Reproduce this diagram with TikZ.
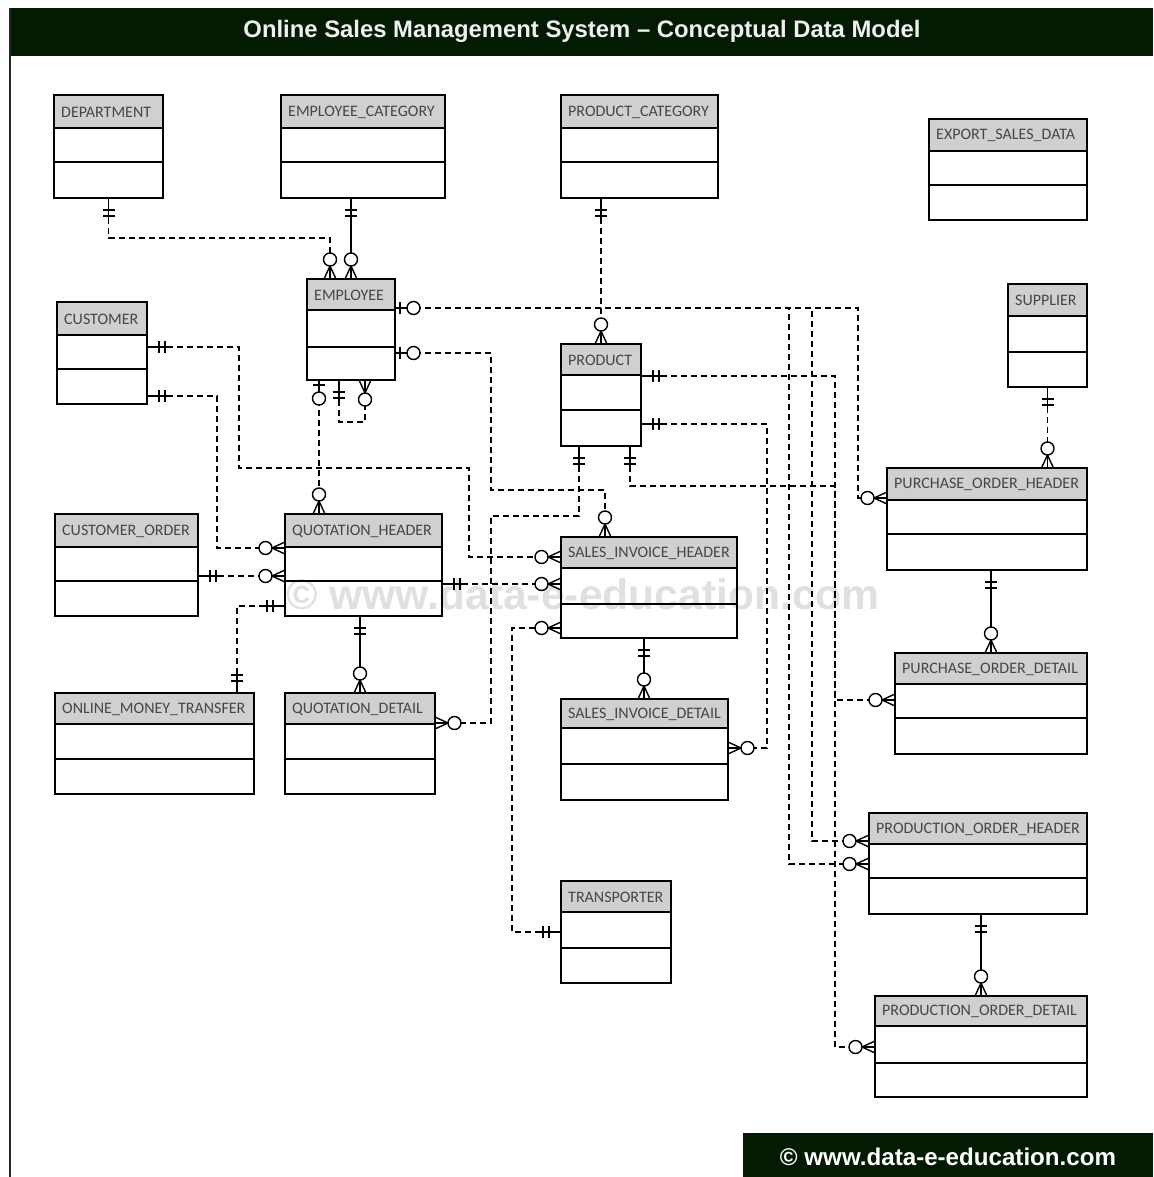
\documentclass[tikz,border=0pt]{standalone}
\usepackage{fontspec}
\setmainfont{Carlito}
\setsansfont{Liberation Sans}
\usetikzlibrary{calc}
\definecolor{titlebg}{RGB}{3,26,3}
\definecolor{hdrgray}{RGB}{208,208,208}
\definecolor{wmgray}{RGB}{224,224,224}
\definecolor{labgray}{RGB}{70,70,70}

\tikzset{
  ebox/.style={draw, line width=1.8pt, inner sep=0pt, outer sep=0pt},
  eline/.style={line width=1.8pt},
  hdrfill/.style={fill=hdrgray},
  etext/.style={anchor=west, inner sep=0pt, text=labgray, font=\fontsize{16}{19}\selectfont},
  rel/.style={line width=1.4pt, dash pattern=on 6pt off 4pt},
  idrel/.style={line width=1.4pt},
  sym/.style={line width=1.4pt, solid}
}

% #1 name, #2 x, #3 y, #4 w, #5 h, #6 header h, #7 row1 h, #8 label
\newcommand\erEnt[8]{%
  \fill[hdrfill] (#2,#3) rectangle ++(#4,#6);
  \draw[eline] (#2,#3+#6) -- ++(#4,0);
  \draw[eline] (#2,#3+#6+#7) -- ++(#4,0);
  \node[ebox, minimum width=#4pt, minimum height=#5pt] (#1) at (#2+#4/2,#3+#5/2) {};
  \node[etext] (#1-label) at (#2+7,#3+#6/2+0.5) {#8};
}
\newcommand\erOne[2]{\begin{scope}[shift={#1},rotate=#2]
  \draw[sym] (0pt,0pt) -- (20pt,0pt);
  \draw[sym] (12pt,-6pt) -- (12pt,6pt);
  \draw[sym] (18pt,-6pt) -- (18pt,6pt);
\end{scope}}
\newcommand\erZO[2]{\begin{scope}[shift={#1},rotate=#2]
  \draw[sym] (0pt,0pt) -- (12pt,0pt);
  \draw[sym] (5pt,-6pt) -- (5pt,6pt);
  \draw[sym,fill=white] (18.5pt,0pt) circle[radius=6.5pt];
\end{scope}}
\newcommand\erMany[2]{\begin{scope}[shift={#1},rotate=#2]
  \draw[sym] (0pt,6pt) -- (13pt,0pt) -- (0pt,-6pt);
  \draw[sym] (0pt,0pt) -- (13pt,0pt);
  \draw[sym,fill=white] (19.5pt,0pt) circle[radius=6.5pt];
\end{scope}}

\begin{document}
\begin{tikzpicture}[x=1pt,y=-1pt]
\useasboundingbox (0,0) rectangle (1153,1177);
\fill[white] (0,0) rectangle (1153,1177);

% title bar and frame
\fill[titlebg] (10,8) rectangle (1153,56);
\draw[line width=1.2pt, black!85] (10,8) -- (10,1177);
\node[text=white!94!black, inner sep=0pt] (title) at (582,31) {\resizebox{677pt}{!}{\sffamily\bfseries Online Sales Management System – Conceptual Data Model}};

% footer
\fill[titlebg] (743,1133) rectangle (1153,1177);
\node[text=white, inner sep=0pt] (foot) at (948,1157) {\resizebox{336pt}{!}{\sffamily\bfseries © www.data-e-education.com}};

% watermark
\node[text=wmgray, inner sep=0pt] (wm) at (583,594) {\resizebox{593pt}{!}{\sffamily\bfseries © www.data-e-education.com}};

% entities
\erEnt{dept}{54}{95}{109}{103}{33}{34}{DEPARTMENT}
\erEnt{empcat}{281}{95}{164}{103}{33}{34}{EMPLOYEE\_CATEGORY}
\erEnt{prodcat}{561}{95}{157}{103}{33}{34}{PRODUCT\_CATEGORY}
\erEnt{export}{929}{119}{158}{101}{32}{34}{EXPORT\_SALES\_DATA}
\erEnt{emp}{307}{279}{88}{101}{31}{37}{EMPLOYEE}
\erEnt{cust}{57}{302}{90}{102}{33}{34}{CUSTOMER}
\erEnt{prod}{561}{344}{80}{102}{31}{35}{PRODUCT}
\erEnt{sup}{1008}{284}{79}{103}{32}{36}{SUPPLIER}
\erEnt{poh}{887}{468}{200}{102}{32}{34}{PURCHASE\_ORDER\_HEADER}
\erEnt{co}{55}{514}{143}{102}{33}{34}{CUSTOMER\_ORDER}
\erEnt{qh}{285}{514}{157}{102}{33}{34}{QUOTATION\_HEADER}
\erEnt{sih}{561}{537}{176}{101}{31}{36}{SALES\_INVOICE\_HEADER}
\erEnt{pod}{895}{653}{192}{101}{31}{34}{PURCHASE\_ORDER\_DETAIL}
\erEnt{omt}{55}{693}{199}{101}{31}{35}{ONLINE\_MONEY\_TRANSFER}
\erEnt{qd}{285}{693}{150}{101}{31}{35}{QUOTATION\_DETAIL}
\erEnt{sid}{561}{699}{167}{101}{29}{36}{SALES\_INVOICE\_DETAIL}
\erEnt{pdh}{869}{813}{218}{101}{31}{34}{PRODUCTION\_ORDER\_HEADER}
\erEnt{tr}{561}{881}{110}{102}{31}{36}{TRANSPORTER}
\erEnt{pdd}{875}{996}{212}{101}{30}{37}{PRODUCTION\_ORDER\_DETAIL}

% connector end points
\coordinate (e1) at ([yshift=-29pt]emp.north east);
\coordinate (e2) at ([yshift=-74pt]emp.north east);
\coordinate (et1) at ([xshift=-21pt]emp.north);
\coordinate (et2) at (emp.north);
\coordinate (eb1) at ([xshift=12pt]emp.south west);
\coordinate (eb2) at ([xshift=32pt]emp.south west);
\coordinate (eb3) at ([xshift=58pt]emp.south west);
\coordinate (cu1) at ([yshift=-45pt]cust.north east);
\coordinate (cu2) at ([yshift=-94pt]cust.north east);
\coordinate (q1) at ([yshift=-34pt]qh.north west);
\coordinate (q2) at ([yshift=-62pt]qh.north west);
\coordinate (q3) at ([yshift=-70pt]qh.north east);
\coordinate (q4) at ([yshift=-92pt]qh.north west);
\coordinate (co1) at (co.east |- q2);
\coordinate (si1) at ([yshift=-20pt]sih.north west);
\coordinate (si2) at (sih.west |- q3);
\coordinate (si3) at ([yshift=-91pt]sih.north west);
\coordinate (st) at ([xshift=44pt]sih.north west);
\coordinate (om1) at ([xshift=182pt]omt.north west);
\coordinate (qd1) at ([yshift=-30pt]qd.north east);
\coordinate (sd1) at ([yshift=-49pt]sid.north east);
\coordinate (sidtop) at ([xshift=83pt]sid.north west);
\coordinate (p1) at ([yshift=-30pt]poh.north west);
\coordinate (pod1) at ([yshift=-47pt]pod.north west);
\coordinate (podtop) at ([xshift=96pt]pod.north west);
\coordinate (ph1) at ([yshift=-28pt]pdh.north west);
\coordinate (ph2) at ([yshift=-51pt]pdh.north west);
\coordinate (pdd1) at ([yshift=-51pt]pdd.north west);
\coordinate (pddtop) at ([xshift=106pt]pdd.north west);
\coordinate (tr1) at ([yshift=-51pt]tr.north west);
\coordinate (pr1) at ([yshift=-32pt]prod.north east);
\coordinate (pr2) at ([yshift=-80pt]prod.north east);
\coordinate (pb1) at ([xshift=18pt]prod.south west);
\coordinate (pb2) at ([xshift=69pt]prod.south west);

% connectors
\draw[rel] (dept.south) -- ++(0,40) -| (et1);
\draw[idrel] (et2) -- (et2 |- empcat.south);
\draw[rel] (prod.north) -- (prod.north |- prodcat.south);
\draw[rel] (e1) -| ($(p1)+(-29,0)$) -- (p1);
\draw[rel] (e1) -| ($(ph1)+(-57,0)$) -- (ph1);
\draw[rel] (e1) -| ($(ph2)+(-80,0)$) -- (ph2);
\draw[rel] (e2) -- ++(96,0) |- ($(st)+(0,-47)$) -- (st);
\draw[rel] (eb1) -- (eb1 |- qh.north);
\draw[rel] (eb2) -- ++(0,42) -| (eb3);
\draw[rel] (cu1) -| ($(cu1)+(92,121)$) -| ($(si1)+(-92,0)$) -- (si1);
\draw[rel] (cu2) -| ($(q1)+(-68,0)$) -- (q1);
\draw[rel] (co1) -- (q2);
\draw[rel] (q3) -- (si2);
\draw[rel] (q4) -| (om1);
\draw[idrel] (qd.north) -- (qd.north |- qh.south);
\draw[rel] (pb1) -- ++(0,70) -| ($(qd1)+(56,0)$) -- (qd1);
\draw[rel] (pr1) -| ($(pod1)+(-60,0)$) -- (pod1);
\draw[rel] (pr2) -| ($(sd1)+(39,0)$) -- (sd1);
\draw[rel] (pb2) -- ++(0,40) -| ($(pdd1)+(-40,0)$) -- (pdd1);
\draw[rel] (sup.south) -- (sup.south |- poh.north);
\draw[idrel] (podtop) -- (podtop |- poh.south);
\draw[idrel] (pddtop) -- (pddtop |- pdh.south);
\draw[idrel] (sidtop) -- (sidtop |- sih.south);
\draw[rel] (tr1) -- ++(-49,0) |- (si3);

% end symbols
\erOne{(dept.south)}{270} \erMany{(et1)}{90}
\erOne{(et2 |- empcat.south)}{270} \erMany{(et2)}{90}
\erOne{(prod.north |- prodcat.south)}{270} \erMany{(prod.north)}{90}
\erZO{(e1)}{0} \erMany{(p1)}{180} \erMany{(ph1)}{180} \erMany{(ph2)}{180}
\erZO{(e2)}{0} \erMany{(st)}{90}
\erZO{(eb1)}{270} \erMany{(eb1 |- qh.north)}{90}
\erOne{(eb2)}{270} \erMany{(eb3)}{270}
\erOne{(cu1)}{0} \erMany{(si1)}{180}
\erOne{(cu2)}{0} \erMany{(q1)}{180}
\erOne{(co1)}{0} \erMany{(q2)}{180}
\erOne{(q3)}{0} \erMany{(si2)}{180}
\erOne{(q4)}{180} \erOne{(om1)}{90}
\erOne{(qd.north |- qh.south)}{270} \erMany{(qd.north)}{90}
\erOne{(pb1)}{270} \erMany{(qd1)}{0}
\erOne{(pr1)}{0} \erMany{(pod1)}{180}
\erOne{(pr2)}{0} \erMany{(sd1)}{0}
\erOne{(pb2)}{270} \erMany{(pdd1)}{180}
\erOne{(sup.south)}{270} \erMany{(sup.south |- poh.north)}{90}
\erOne{(podtop |- poh.south)}{270} \erMany{(podtop)}{90}
\erOne{(pddtop |- pdh.south)}{270} \erMany{(pddtop)}{90}
\erOne{(sidtop |- sih.south)}{270} \erMany{(sidtop)}{90}
\erOne{(tr1)}{180} \erMany{(si3)}{180}
\end{tikzpicture}
\end{document}
